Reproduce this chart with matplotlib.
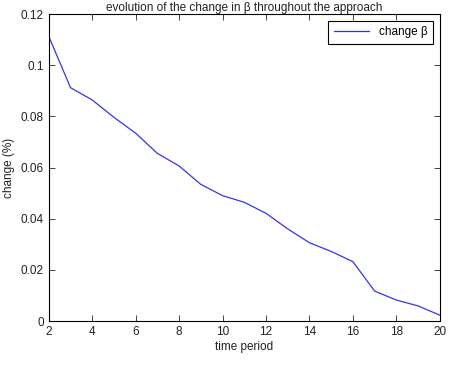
import matplotlib
matplotlib.use('Agg')
import matplotlib.pyplot as plt

plt.rcParams['font.family'] = ['Liberation Sans', 'DejaVu Sans']

periods = list(range(2, 21))
change_beta = [0.1112, 0.0912, 0.0864, 0.0796, 0.0734, 0.0655, 0.0606, 0.0534,
               0.0490, 0.0464, 0.0421, 0.0360, 0.0306, 0.0272, 0.0232, 0.0117,
               0.0082, 0.0059, 0.0023]

fig = plt.figure(figsize=(4.52, 3.69), dpi=100)
ax = fig.add_axes([0.108, 0.130, 0.865, 0.832])
ax.plot(periods, change_beta, color='#3535e6', linewidth=0.9, label='change β')
ax.set_xlim(2, 20)
ax.set_ylim(0, 0.12)
ax.set_xticks(range(2, 21, 2))
ax.set_yticks([0, 0.02, 0.04, 0.06, 0.08, 0.1, 0.12])
ax.set_yticklabels(['0', '0.02', '0.04', '0.06', '0.08', '0.1', '0.12'])
ax.tick_params(direction='in', top=True, right=True, labelsize=8.5, length=4,
               width=0.6, colors='#222222')
for s in ax.spines.values():
    s.set_linewidth(0.8)
ax.set_xlabel('time period', fontsize=8.5, labelpad=2, color='#222222')
ax.set_ylabel('change (%)', fontsize=8.5, labelpad=4, color='#222222')
ax.set_title('evolution of the change in β throughout the approach', fontsize=8.5,
             pad=2, color='#222222')
leg = ax.legend(loc='upper right', fontsize=8.5, fancybox=False, edgecolor='black',
                framealpha=1, borderaxespad=0.6, handlelength=3.0, borderpad=0.45)
leg.get_frame().set_linewidth(0.8)

fig.savefig('out.png', dpi=100)
